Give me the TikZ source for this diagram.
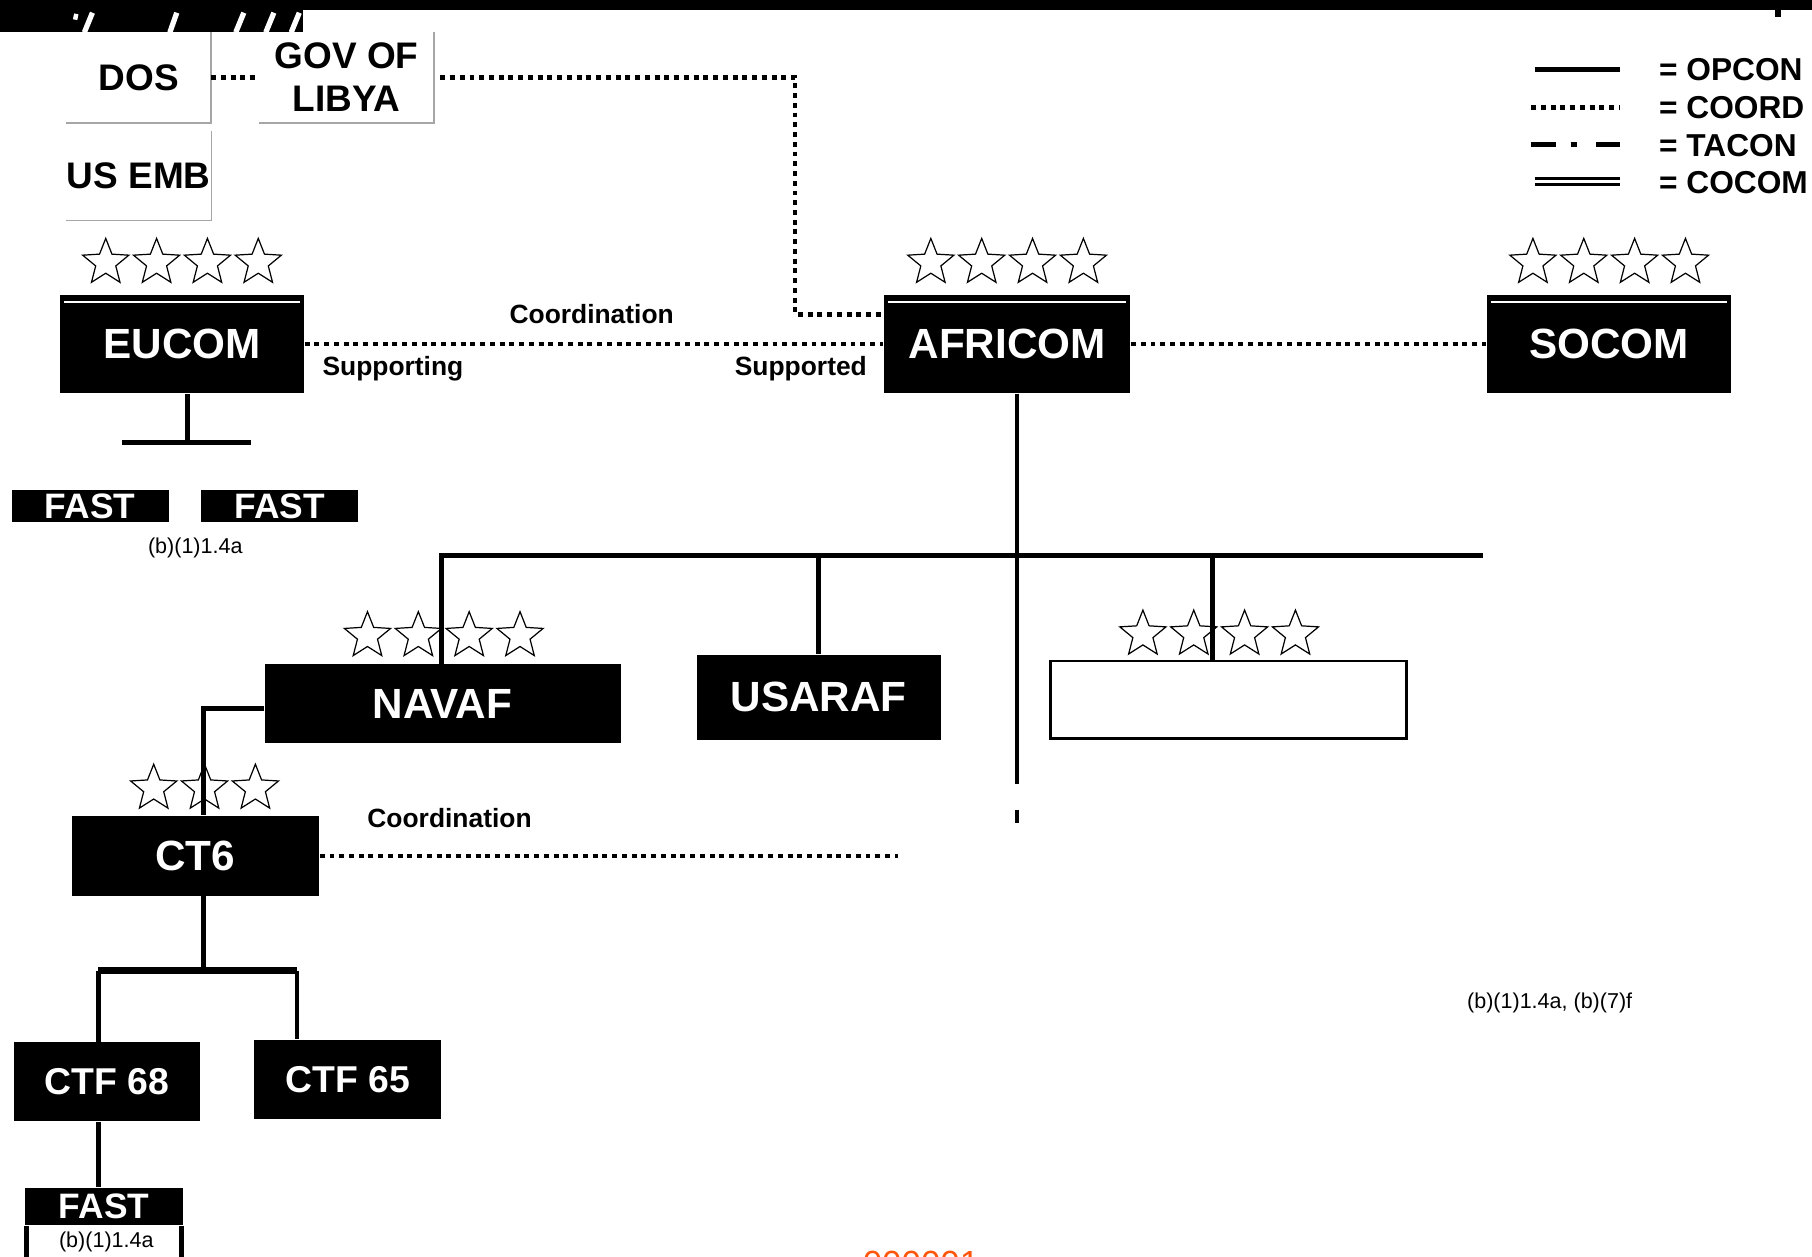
\documentclass[tikz,border=0pt]{standalone}
\usepackage{fontspec}
\setmainfont{Liberation Sans}
\usetikzlibrary{shapes.geometric}
\definecolor{stamp}{RGB}{255,85,10}
\tikzset{
  cmd/.style={fill=black, text=white, inner sep=0pt, font=\fontsize{10.4}{12}\selectfont\bfseries},
  sub/.style={cmd, font=\fontsize{9.2}{11}\selectfont\bfseries},
  fastbox/.style={cmd, minimum width=13.6mm, font=\fontsize{8.7}{10}\selectfont\bfseries},
  civ/.style={inner sep=0pt, align=center, font=\fontsize{9.1}{10.6}\selectfont\bfseries},
  rank/.style={star, star points=5, star point ratio=2.3, draw=black, line width=0.3pt, minimum size=4.2mm, inner sep=0pt},
  opcon/.style={line width=1.2pt},
  coord/.style={line width=1.1pt, dash pattern=on 1.2pt off 1.2pt},
  lbl/.style={font=\fontsize{6.5}{8}\selectfont\bfseries},
  note/.style={font=\fontsize{5.3}{6}\selectfont},
  leg/.style={anchor=west, inner sep=0pt, font=\fontsize{7.8}{9}\selectfont\bfseries},
}
\begin{document}
\begin{tikzpicture}[x=0.1mm, y=-0.1mm]
  \useasboundingbox (0,0) rectangle (1568,1087);
  \clip (0,0) rectangle (1568,1087);

  % cut-off header band
  \fill (0,0) rectangle (1568,9);
  \fill (0,0) rectangle (262,28);
  \foreach \t/\b in {80/73, 153/147, 211/204, 237/230, 259/252}
    \draw[white, line width=1.3pt] (\t,11) -- (\b,28);
  \draw[white, line width=1.1pt] (66,12) -- (65,17);
  \fill (1536,9) rectangle (1541,15);

  % civil side
  \node[civ, minimum width=12.4mm, minimum height=7.8mm] (dos) at (120,67) {DOS};
  \node[civ, minimum width=15mm, minimum height=7.8mm] (libya) at (300,67) {GOV OF\\LIBYA};
  \node[civ, minimum width=12.4mm, minimum height=7.6mm] (usemb) at (120,152) {US EMB};
  \foreach \n in {dos, libya, usemb}
    \draw[gray!70, line width=0.4pt] (\n.north east) -- (\n.south east) -- (\n.south west);

  % combatant commands
  \node[cmd, minimum width=21.1mm, minimum height=8.5mm] (eucom) at (157.5,297.5) {EUCOM};
  \node[cmd, minimum width=21.3mm, minimum height=8.5mm] (africom) at (871.5,297.5) {AFRICOM};
  \node[cmd, minimum width=21.1mm, minimum height=8.5mm] (socom) at (1392.5,297.5) {SOCOM};
  \foreach \n in {eucom, africom, socom} {
    \draw[white, line width=0.6pt] ([shift={(4,7)}]\n.north west) -- ([shift={(-4,7)}]\n.north east);
    \foreach \i in {1,...,4}
      \node[rank] (\n-s\i) at ([shift={(44*\i-110,-27)}]\n.north) {};
  }

  % components
  \node[cmd, minimum width=30.8mm, minimum height=6.8mm] (navaf) at (383,609) {NAVAF};
  \node[cmd, minimum width=21.1mm, minimum height=7.3mm] (usaraf) at (708.5,603.5) {USARAF};
  \node[draw, fill=white, line width=0.6pt, minimum width=30.8mm, minimum height=6.7mm] (vacant) at (1063,605.5) {};
  \foreach \i in {1,...,4} {
    \node[rank] (navaf-s\i) at ([shift={(44*\i-109,-24)}]navaf.north) {};
    \node[rank] (vacant-s\i) at ([shift={(44*\i-118,-22)}]vacant.north) {};
  }
  \node[cmd, minimum width=21.4mm, minimum height=6.9mm] (ct6) at (169,740.5) {CT6};
  \foreach \i in {1,2,3}
    \node[rank] (ct6-s\i) at ([shift={(44*\i-80,-23)}]ct6.north) {};
  \node[sub, minimum width=16.1mm, minimum height=6.8mm] (ctf68) at (92.5,936) {CTF 68};
  \node[sub, minimum width=16.2mm, minimum height=6.8mm] (ctf65) at (301,934) {CTF 65};

  \node[fastbox, minimum height=2.8mm] (fasta) at (78,438) {FAST};
  \node[fastbox, minimum height=2.8mm] (fastb) at (242,438) {FAST};
  \node[fastbox, minimum height=3.2mm] (fastc) at (90,1044) {FAST};

  % opcon lines
  \coordinate (eubar) at (162,383);
  \draw[opcon] (eubar |- eucom.south) -- (eubar);
  \draw[opcon] (106,383) coordinate (eubar-w) -- (217,383) coordinate (eubar-e);

  \coordinate (afr-foot) at (880,678);
  \coordinate (bus-w) at (382,481);
  \coordinate (bus-e) at (1283,481);
  \coordinate (bus-v) at (1049,481);
  \draw[opcon] (afr-foot |- africom.south) -- (afr-foot);
  \draw[opcon] (880,701) coordinate (afr-tick) -- (880,712);
  \draw[opcon] (bus-e) -- (bus-w) -- (bus-w |- navaf.north);
  \draw[opcon] (usaraf.north |- bus-w) -- (usaraf.north);
  \draw[opcon] (bus-v) -- (bus-v |- vacant.north);

  \coordinate (ct6-knee) at (176,613);
  \draw[opcon] (navaf.west |- ct6-knee) -- (ct6-knee) -- (ct6-knee |- ct6.north);
  \coordinate (ctf-bar) at (176,840);
  \coordinate (ctf-bar-w) at (85,840);
  \coordinate (ctf-bar-e) at (257,840);
  \draw[opcon] (ctf-bar |- ct6.south) -- (ctf-bar);
  \draw[line width=1.6pt] (ctf-bar-w) -- (ctf-bar-e);
  \draw[opcon] (ctf-bar-w) -- (ctf-bar-w |- ctf68.north);
  \draw[opcon] (ctf-bar-e) -- (ctf-bar-e |- ctf65.north);
  \draw[opcon] (ctf-bar-w |- ctf68.south) -- (ctf-bar-w |- fastc.north);
  \draw[opcon] ([shift={(1.5,0)}]fastc.south west) -- ++(0,40);
  \draw[opcon] ([shift={(-1.5,0)}]fastc.south east) -- ++(0,40);

  % coord lines
  \coordinate (libya-knee) at (688,67);
  \coordinate (afr-knee) at (688,272);
  \draw[coord] (dos.east) -- (libya.west);
  \draw[coord] ([xshift=1.5pt]libya.east) -- (libya-knee) -- (afr-knee) -- (afr-knee -| africom.west);
  \draw[coord] (eucom.east) -- (africom.west);
  \draw[coord] (africom.east) -- (socom.west);
  \coordinate (ct6-end) at (777,741);
  \draw[coord] (ct6.east) -- (ct6.east -| ct6-end);

  \node[lbl] (coord-top) at (512,272) {Coordination};
  \node[lbl] (supporting) at (340,319) {Supporting};
  \node[lbl] (supported) at (693,319) {Supported};
  \node[lbl] (coord-ct6) at (389,708) {Coordination};

  \node[note] (fast-note) at (169,474) {(b)(1)1.4a};
  \node[note] (fastc-note) at (92,1075) {(b)(1)1.4a};
  \node[note] (right-note) at (1341,868) {(b)(1)1.4a, (b)(7)f};

  % legend
  \node[leg] (leg-opcon) at (1435,60) {= OPCON};
  \node[leg] (leg-coord) at (1435,93) {= COORD};
  \node[leg] (leg-tacon) at (1435,126) {= TACON};
  \node[leg] (leg-cocom) at (1435,158) {= COCOM};
  \draw[opcon] ([shift={(-107,0)}]leg-opcon.west) -- ++(74,0);
  \draw[coord] ([shift={(-110,0)}]leg-coord.west) -- ++(77,0);
  \draw[line width=1.4pt, dash pattern=on 6pt off 3.7pt on 1.7pt off 4.6pt] ([shift={(-110,-1)}]leg-tacon.west) -- ++(77,0);
  \draw[line width=0.8pt, double, double distance=0.6pt] ([shift={(-107,-1)}]leg-cocom.west) -- ++(74,0);

  \node[anchor=north, inner sep=0pt, text=stamp, font=\fontsize{8.6}{10}\selectfont] (stamp) at (797,1082) {000001};
\end{tikzpicture}
\end{document}
